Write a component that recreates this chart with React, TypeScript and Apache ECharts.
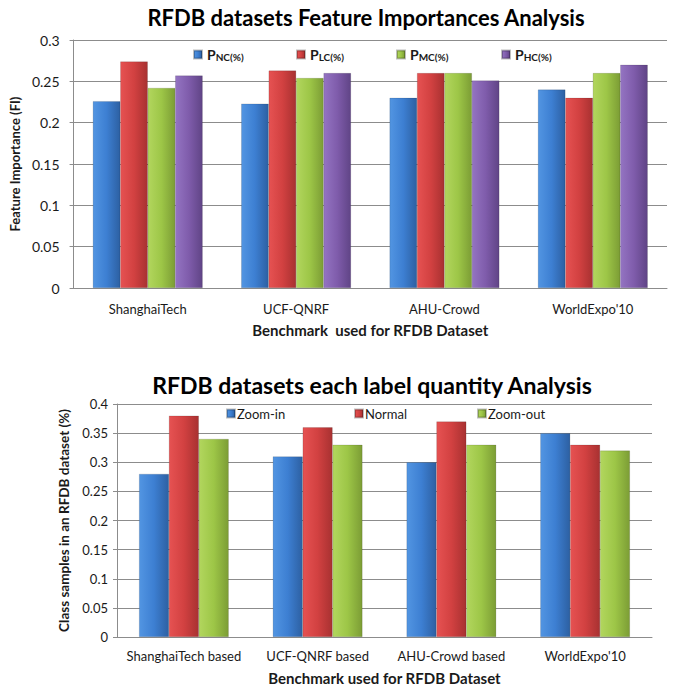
import React, { useEffect, useRef } from 'react';
import * as echarts from 'echarts';

const topCategories = ['ShanghaiTech', 'UCF-QNRF', 'AHU-Crowd', "WorldExpo'10"];
const topSeriesNames = ['PNC(%)', 'PLC(%)', 'PMC(%)', 'PHC(%)'];
const pNC = [0.226, 0.223, 0.23, 0.24];
const pLC = [0.274, 0.263, 0.26, 0.23];
const pMC = [0.242, 0.254, 0.26, 0.26];
const pHC = [0.257, 0.26, 0.251, 0.27];

const bottomCategories = ['ShanghaiTech based', 'UCF-QNRF based', 'AHU-Crowd based', "WorldExpo'10"];
const bottomSeriesNames = ['Zoom-in', 'Normal', 'Zoom-out'];
const zoomIn = [0.28, 0.31, 0.3, 0.35];
const normal = [0.38, 0.36, 0.37, 0.33];
const zoomOut = [0.34, 0.33, 0.33, 0.32];

const topTitle = 'RFDB datasets Feature Importances Analysis';
const bottomTitle = 'RFDB datasets each label quantity Analysis';
const topYName = 'Feature Importance (FI)';
const bottomYName = 'Class samples in an RFDB dataset (%)';
const xName = 'Benchmark  used for RFDB Dataset';
const xName2 = 'Benchmark used for RFDB Dataset';

const FONT = 'Lato, "Open Sans", sans-serif';

const grad = (a: string, b: string, c: string) =>
  new echarts.graphic.LinearGradient(0, 0, 1, 0, [
    { offset: 0, color: a },
    { offset: 0.5, color: b },
    { offset: 1, color: c },
  ]);

const BLUE = grad('#5295e2', '#3d7fd2', '#2d60a2');
const RED = grad('#e65252', '#d24141', '#a83131');
const GREEN = grad('#b2d65e', '#9dc647', '#7c9d35');
const PURPLE = grad('#9474c2', '#7f5cab', '#604486');

const topColors = [BLUE, RED, GREEN, PURPLE];
const bottomColors = [BLUE, RED, GREEN];
const topData = [pNC, pLC, pMC, pHC];
const bottomData = [zoomIn, normal, zoomOut];

const topLegendX = [193, 296, 396, 501];
const bottomLegendX = [226, 354, 477];

const fmt = (v: number) => String(+v.toFixed(2));

export default function App() {
  const ref = useRef<HTMLDivElement>(null);
  useEffect(() => {
    document.body.style.margin = '0';
    const chart = echarts.init(ref.current!, null, { renderer: 'svg' });
    const axisColor = '#8c8c8c';
    const textColor = '#1a1a1a';
    const option: any = {
      animation: false,
      backgroundColor: '#ffffff',
      textStyle: { fontFamily: FONT },
      graphic: [
        {
          type: 'text',
          x: 366,
          y: 17,
          style: {
            text: topTitle,
            fontFamily: FONT,
            fontSize: 22,
            fontWeight: 'bold',
            fill: '#000',
            textAlign: 'center',
            textVerticalAlign: 'middle',
          },
        },
        {
          type: 'text',
          x: 372,
          y: 385,
          style: {
            text: bottomTitle,
            fontFamily: FONT,
            fontSize: 23,
            fontWeight: 'bold',
            fill: '#000',
            textAlign: 'center',
            textVerticalAlign: 'middle',
          },
        },
      ],
      legend: [
        ...topSeriesNames.map((n, i) => ({
          data: [n],
          left: topLegendX[i],
          top: 47,
          padding: 0,
          itemWidth: 8,
          itemHeight: 8,
          icon: 'rect',
          selectedMode: false,
          formatter: (name: string) => `{p|P}{s|${name.slice(1)}}`,
          textStyle: {
            rich: {
              p: { fontFamily: FONT, fontSize: 14, fontWeight: 'bold', color: textColor, lineHeight: 16 },
              s: { fontFamily: FONT, fontSize: 10, fontWeight: 'bold', color: textColor, lineHeight: 16, padding: [5, 0, 0, 0] },
            },
          },
        })),
        ...bottomSeriesNames.map((n, i) => ({
          data: [n],
          left: bottomLegendX[i],
          top: 407,
          padding: 0,
          itemWidth: 8,
          itemHeight: 8,
          itemGap: 0,
          icon: 'rect',
          selectedMode: false,
          textStyle: { fontFamily: FONT, fontSize: 13, color: textColor, padding: [0, 0, 0, -3] },
        })),
      ],
      grid: [
        { left: 73, top: 40, width: 594, height: 248 },
        { left: 117, top: 404, width: 535, height: 233 },
      ],
      xAxis: [
        {
          type: 'category',
          gridIndex: 0,
          data: topCategories,
          name: xName,
          nameLocation: 'middle',
          nameGap: 34,
          nameTextStyle: { fontFamily: FONT, fontSize: 15, fontWeight: 'bold', color: textColor },
          axisLine: { lineStyle: { color: axisColor } },
          axisTick: { inside: true, length: 5, lineStyle: { color: axisColor } },
          axisLabel: { interval: 0, margin: 14, fontFamily: FONT, fontSize: 13, color: textColor },
        },
        {
          type: 'category',
          gridIndex: 1,
          data: bottomCategories,
          name: xName2,
          nameLocation: 'middle',
          nameGap: 33,
          nameTextStyle: { fontFamily: FONT, fontSize: 15, fontWeight: 'bold', color: textColor },
          axisLine: { lineStyle: { color: axisColor } },
          axisTick: { inside: true, length: 5, lineStyle: { color: axisColor } },
          axisLabel: { interval: 0, margin: 12, fontFamily: FONT, fontSize: 13, color: textColor },
        },
      ],
      yAxis: [
        {
          type: 'value',
          gridIndex: 0,
          min: 0,
          max: 0.3,
          interval: 0.05,
          name: topYName,
          nameLocation: 'middle',
          nameGap: 48,
          nameTextStyle: { fontFamily: FONT, fontSize: 13, fontWeight: 'bold', color: textColor },
          axisLine: { show: true, lineStyle: { color: axisColor } },
          axisTick: { show: true, length: 4, lineStyle: { color: axisColor } },
          splitLine: { lineStyle: { color: axisColor } },
          axisLabel: { margin: 14, fontFamily: FONT, fontSize: 14, color: textColor, formatter: fmt },
        },
        {
          type: 'value',
          gridIndex: 1,
          min: 0,
          max: 0.4,
          interval: 0.05,
          name: bottomYName,
          nameLocation: 'middle',
          nameGap: 41,
          nameTextStyle: { fontFamily: FONT, fontSize: 13.5, fontWeight: 'bold', color: textColor },
          axisLine: { show: true, lineStyle: { color: axisColor } },
          axisTick: { show: true, length: 4, lineStyle: { color: axisColor } },
          splitLine: { lineStyle: { color: axisColor } },
          axisLabel: { margin: 9, fontFamily: FONT, fontSize: 13, color: textColor, formatter: fmt },
        },
      ],
      series: [
        ...topSeriesNames.map((n, i) => ({
          name: n,
          type: 'bar',
          xAxisIndex: 0,
          yAxisIndex: 0,
          data: topData[i],
          barGap: '0%',
          barCategoryGap: '26%',
          itemStyle: { color: topColors[i], borderColor: 'rgba(0,0,0,0.25)', borderWidth: 0.5 },
        })),
        ...bottomSeriesNames.map((n, i) => ({
          name: n,
          type: 'bar',
          xAxisIndex: 1,
          yAxisIndex: 1,
          data: bottomData[i],
          barGap: '0%',
          barCategoryGap: '33%',
          itemStyle: { color: bottomColors[i], borderColor: 'rgba(0,0,0,0.25)', borderWidth: 0.5 },
        })),
      ],
    };
    chart.setOption(option);
    return () => chart.dispose();
  }, []);
  return <div ref={ref} style={{ width: 681, height: 687 }} />;
}
